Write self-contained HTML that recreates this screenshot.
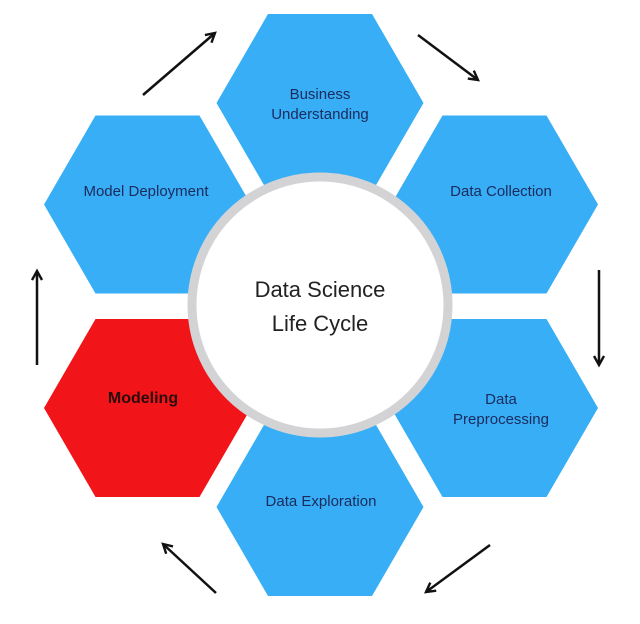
<!DOCTYPE html>
<html><head><meta charset="utf-8"><style>
body{margin:0;background:#fff;}
svg{display:block;}
text{font-family:"Liberation Sans",sans-serif;}
</style></head><body>
<svg width="640" height="624" viewBox="0 0 640 624" xmlns="http://www.w3.org/2000/svg">
<defs>
<marker id="ah" markerWidth="14" markerHeight="14" refX="10" refY="6" orient="auto" markerUnits="userSpaceOnUse">
<path d="M1,1 L10,6 L1,11" fill="none" stroke="#111" stroke-width="2.4"/>
</marker>
<polygon id="hx" points="-52,-89 52,-89 103.5,0 52,89 -52,89 -103.5,0"/>
</defs>
<rect width="640" height="624" fill="#fff"/>
<g fill="#37aef6">
<use href="#hx" x="320" y="103"/>
<use href="#hx" x="147.5" y="204.5"/>
<use href="#hx" x="494.5" y="204.5"/>
<use href="#hx" x="494.5" y="408"/>
<use href="#hx" x="320" y="507"/>
</g>
<use href="#hx" x="147.5" y="408" fill="#f1151a"/>
<circle cx="320" cy="305" r="128" fill="#fff" stroke="#d3d3d5" stroke-width="9"/>
<g stroke="#111" stroke-width="2.5" fill="none" marker-end="url(#ah)">
<line x1="143" y1="95" x2="215" y2="33"/>
<line x1="418" y1="35" x2="478" y2="80"/>
<line x1="599" y1="270" x2="599" y2="365"/>
<line x1="490" y1="545" x2="426" y2="592"/>
<line x1="216" y1="593" x2="163" y2="544"/>
<line x1="37" y1="365" x2="37" y2="271"/>
</g>
<g fill="#1b2b5c" font-size="15" text-anchor="middle">
<text x="320" y="99">Business</text>
<text x="320" y="119">Understanding</text>
<text x="146" y="196">Model Deployment</text>
<text x="501" y="196">Data Collection</text>
<text x="501" y="404">Data</text>
<text x="501" y="424">Preprocessing</text>
<text x="321" y="506">Data Exploration</text>
</g>
<text x="143" y="403" font-size="16" font-weight="bold" fill="#2a0a0a" text-anchor="middle">Modeling</text>
<g fill="#222" font-size="22" text-anchor="middle">
<text x="320" y="297">Data Science</text>
<text x="320" y="331">Life Cycle</text>
</g>
</svg>
</body></html>
